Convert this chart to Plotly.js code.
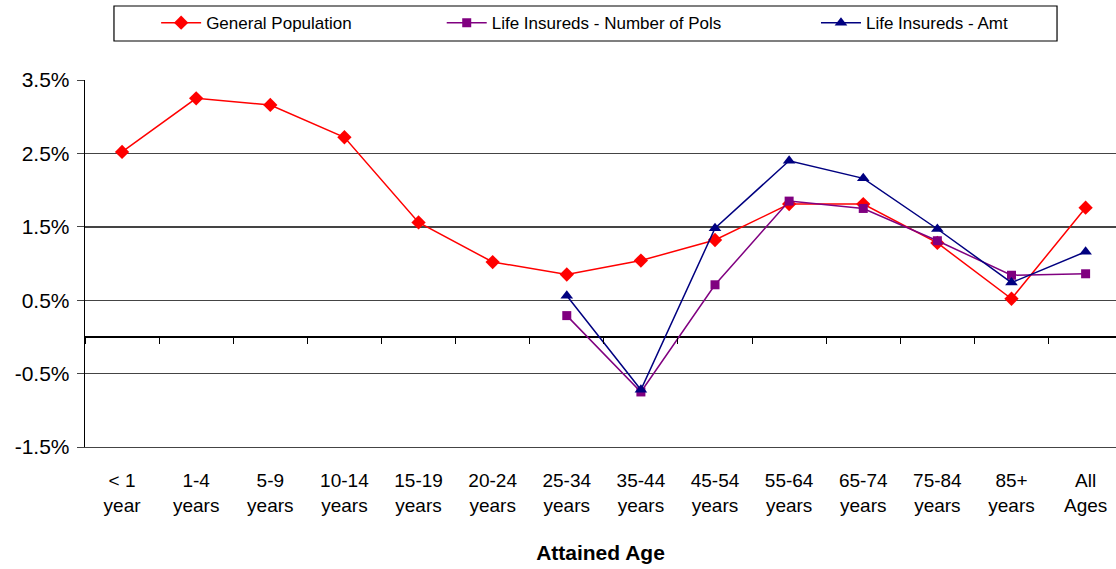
<!DOCTYPE html>
<html>
<head>
<meta charset="utf-8">
<script src="https://cdn.plot.ly/plotly-3.0.1.min.js"></script>
<style>html,body{margin:0;padding:0;background:#fff;overflow:hidden;}</style>
</head>
<body>
<div id="chart" style="width:1116px;height:569px;"></div>
<script>
const categories = ["&lt; 1<br>year","1-4<br>years","5-9<br>years","10-14<br>years","15-19<br>years","20-24<br>years","25-34<br>years","35-44<br>years","45-54<br>years","55-64<br>years","65-74<br>years","75-84<br>years","85+<br>years","All<br>Ages"];
const generalPopulation = [2.52, 3.25, 3.16, 2.72, 1.56, 1.02, 0.85, 1.04, 1.32, 1.81, 1.81, 1.28, 0.52, 1.76];
const lifeInsuredsPols = [null, null, null, null, null, null, 0.29, -0.75, 0.71, 1.85, 1.75, 1.31, 0.84, 0.86];
const lifeInsuredsAmt = [null, null, null, null, null, null, 0.56, -0.72, 1.48, 2.40, 2.16, 1.47, 0.74, 1.16];
const yTicks = [-1.5, -0.5, 0.5, 1.5, 2.5, 3.5];

const FONT = "Arial, 'Liberation Sans', sans-serif";

const traces = [
  {x: categories, y: generalPopulation, name: "General Population", type: "scatter", mode: "lines+markers",
   line: {color: "#FF0000", width: 1.5}, marker: {symbol: "diamond", size: 11, color: "#FF0000"}, legend: "legend"},
  {x: categories, y: lifeInsuredsPols, name: "Life Insureds - Number of Pols", type: "scatter", mode: "lines+markers",
   line: {color: "#800080", width: 1.5}, marker: {symbol: "square", size: 9, color: "#800080"}, legend: "legend2", connectgaps: false},
  {x: categories, y: lifeInsuredsAmt, name: "Life Insureds - Amt", type: "scatter", mode: "lines+markers",
   line: {color: "#000080", width: 1.5}, marker: {symbol: "triangle-up", size: 11, color: "#000080"}, legend: "legend3", connectgaps: false},
  {x: categories, y: categories.map(() => null), xaxis: "x2", yaxis: "y", showlegend: false, hoverinfo: "skip", mode: "markers"}
];

const legendCommon = {orientation: "h", yanchor: "top", y: 1.204, xanchor: "left",
  font: {family: FONT, size: 17, color: "#000"}, bgcolor: "rgba(0,0,0,0)", borderwidth: 0, itemwidth: 40};

const layout = {
  width: 1116, height: 569,
  margin: {l: 85, r: 0, t: 80, b: 122},
  paper_bgcolor: "#fff", plot_bgcolor: "#fff",
  font: {family: FONT, color: "#000"},
  showlegend: true,
  legend: Object.assign({}, legendCommon, {x: 0.069}),
  legend2: Object.assign({}, legendCommon, {x: 0.346}),
  legend3: Object.assign({}, legendCommon, {x: 0.709}),
  xaxis: {
    type: "category", range: [-0.5, 13.41],
    showgrid: false, showline: true, linecolor: "#444", linewidth: 1.4, zeroline: false, ticks: "",
    tickfont: {family: FONT, size: 19, color: "#000"},
    ticklabelstandoff: 16,
    title: {text: "<b>Attained Age</b>", font: {family: FONT, size: 21, color: "#000"}, standoff: 30}
  },
  xaxis2: {
    type: "category", overlaying: "x", matches: "x", anchor: "free", position: 0.3,
    showgrid: false, showline: false, zeroline: false, showticklabels: false,
    ticks: "outside", tickson: "boundaries", ticklen: 6, tickcolor: "#000", tickwidth: 1
  },
  yaxis: {
    range: [-1.5, 3.5], tickvals: yTicks, ticktext: yTicks.map(v => v.toFixed(1) + "%"),
    showgrid: true, gridcolor: "#444", gridwidth: 1.4,
    zeroline: true, zerolinecolor: "#000", zerolinewidth: 1.3,
    showline: true, linecolor: "#000", linewidth: 1.3,
    ticks: "outside", ticklen: 7, tickcolor: "#444",
    ticklabelstandoff: 3,
    tickfont: {family: FONT, size: 21, color: "#000"}
  },
  shapes: [
    {type: "rect", xref: "paper", yref: "paper", x0: 0.0281, x1: 0.9428, y0: 1.1063, y1: 1.2016,
     line: {color: "#000", width: 1.2}, fillcolor: "rgba(0,0,0,0)"}
  ]
};

Plotly.newPlot("chart", traces, layout, {displayModeBar: false, staticPlot: true});
</script>
</body>
</html>
